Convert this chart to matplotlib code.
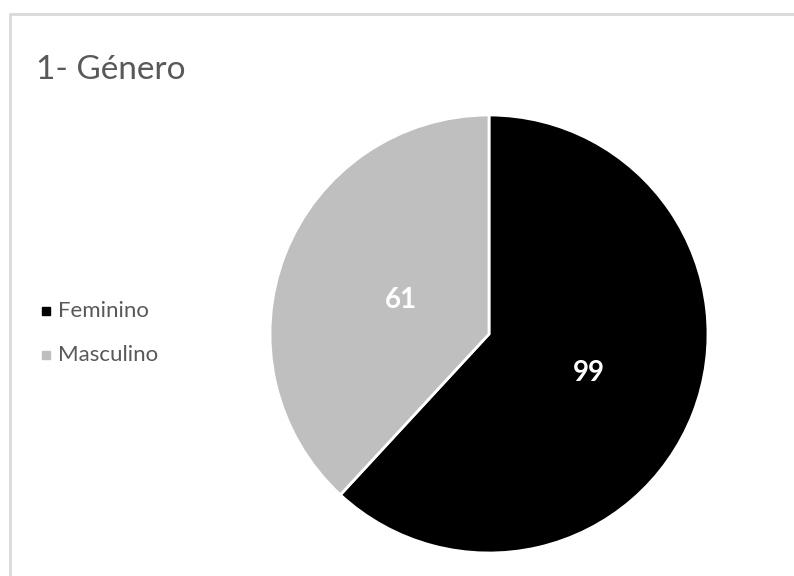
import matplotlib
matplotlib.use("Agg")
import numpy as np
import matplotlib.pyplot as plt
from matplotlib.patches import Rectangle

plt.rcParams['font.family'] = ['Lato', 'DejaVu Sans']

# dados
categorias = ['Feminino', 'Masculino']
valores = [99, 61]
cores = ['#000000', '#bfbfbf']
titulo = '1- Género'

W, H = 794, 576
fig = plt.figure(figsize=(W / 100, H / 100), dpi=100)

# moldura do gráfico (só esquerda e topo visíveis)
fig.patches.append(Rectangle((10 / W, -0.1), 1.2, (H - 14) / H + 0.1,
                             transform=fig.transFigure, fill=False,
                             edgecolor='#d9d9d9', linewidth=2))

# pizza
cx, cy, r = 489, 334, 219
ax = fig.add_axes([(cx - r) / W, (H - cy - r) / H, 2 * r / W, 2 * r / H])
wedges, _, autotexts = ax.pie(valores, colors=cores, startangle=90, counterclock=False,
                              autopct=lambda p: f'{p * sum(valores) / 100:.0f}',
                              wedgeprops=dict(edgecolor='white', linewidth=2),
                              textprops=dict(color='white', fontsize=20, fontweight='bold'))
# distância dos rótulos como no Excel
dists = [0.49, 0.43]
for w, t, d in zip(wedges, autotexts, dists):
    ang = np.deg2rad((w.theta1 + w.theta2) / 2)
    t.set_position((d * np.cos(ang), d * np.sin(ang)))
ax.set_xlim(-1.0, 1.0)
ax.set_ylim(-1.0, 1.0)
ax.set_aspect('equal')

# título
fig.text(36 / W, 1 - 70 / H, titulo, fontsize=24, color='#595959', va='center', ha='left')

# legenda (manual)
for i, (nome, cor) in enumerate(zip(categorias, cores)):
    y = 1 - (311 + 44 * i) / H
    fig.patches.append(Rectangle((42 / W, y - 4 / H), 8 / W, 8 / H,
                                 transform=fig.transFigure, color=cor))
    fig.text(58 / W, y, nome, fontsize=16, color='#595959', va='center', ha='left')

fig.savefig('out.png', dpi=100)
